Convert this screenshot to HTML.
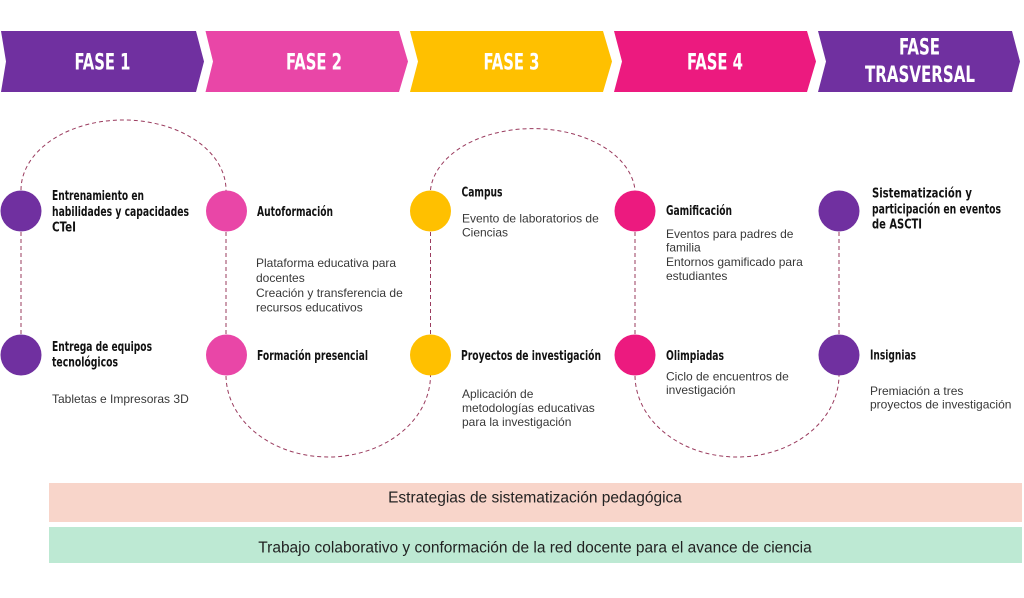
<!DOCTYPE html>
<html>
<head>
<meta charset="utf-8">
<style>
html,body{margin:0;padding:0;background:#fff;}
svg{display:block;}
.ch{font-family:"Liberation Sans Narrow","DejaVu Sans Condensed","Liberation Sans",sans-serif;font-weight:bold;font-size:22px;fill:#fff;}
.t{font-family:"Liberation Sans Narrow","DejaVu Sans Condensed","Liberation Sans",sans-serif;font-weight:bold;font-size:13px;fill:#111;}
.b{font-family:"Liberation Sans","DejaVu Sans",sans-serif;font-size:12px;fill:#383838;}
.bar{font-family:"Liberation Sans",Arial,sans-serif;font-size:15.5px;fill:#222;}
.d{fill:none;stroke:#9a3b5e;stroke-width:1;stroke-dasharray:4 3;}
</style>
</head>
<body>
<svg width="1024" height="598" viewBox="0 0 1024 598" xmlns="http://www.w3.org/2000/svg">
<rect width="1024" height="598" fill="#fff"/>

<!-- Chevrons -->
<polygon points="1,31 196,31 204,61.5 196,92 1,92 6,61.5" fill="#7030a0"/>
<polygon points="205.5,31 399,31 408,61.5 399,92 205.5,92 213,61.5" fill="#e946a7"/>
<polygon points="410,31 603,31 612,61.5 603,92 410,92 418,61.5" fill="#ffc000"/>
<polygon points="614,31 807,31 816,61.5 807,92 614,92 622,61.5" fill="#ec1a7f"/>
<polygon points="818,31 1012,31 1020,61.5 1012,92 818,92 826,61.5" fill="#7030a0"/>

<text class="ch" x="74.5" y="69.5" textLength="56" lengthAdjust="spacingAndGlyphs">FASE 1</text>
<text class="ch" x="286" y="69.5" textLength="56" lengthAdjust="spacingAndGlyphs">FASE 2</text>
<text class="ch" x="483.5" y="69.5" textLength="56" lengthAdjust="spacingAndGlyphs">FASE 3</text>
<text class="ch" x="687" y="69.5" textLength="56" lengthAdjust="spacingAndGlyphs">FASE 4</text>
<text class="ch" x="899" y="54.5" textLength="41" lengthAdjust="spacingAndGlyphs">FASE</text>
<text class="ch" x="865" y="82" textLength="110" lengthAdjust="spacingAndGlyphs">TRASVERSAL</text>

<!-- Dashed connectors -->
<path class="d" d="M21,211 L21,190 A102.5,70 0 0 1 226,190 L226,211"/>
<path class="d" d="M430.5,211 L430.5,190 A102.5,66 0 0 1 635,190 L635,211"/>
<line class="d" x1="21" y1="211" x2="21" y2="355"/>
<line class="d" x1="226" y1="211" x2="226" y2="355"/>
<line class="d" x1="430.5" y1="211" x2="430.5" y2="355"/>
<line class="d" x1="635" y1="211" x2="635" y2="355"/>
<line class="d" x1="839" y1="211" x2="839" y2="355"/>
<path class="d" d="M226,355 L226,375 A102.25,82 0 0 0 430.5,375 L430.5,355"/>
<path class="d" d="M635,355 L635,375 A102,82 0 0 0 839,375 L839,355"/>

<!-- Circles -->
<circle cx="21" cy="211" r="20.5" fill="#7030a0"/>
<circle cx="226.5" cy="211" r="20.5" fill="#e946a7"/>
<circle cx="430.5" cy="211" r="20.5" fill="#ffc000"/>
<circle cx="635" cy="211" r="20.5" fill="#ec1a7f"/>
<circle cx="839" cy="211" r="20.5" fill="#7030a0"/>
<circle cx="21" cy="355" r="20.5" fill="#7030a0"/>
<circle cx="226.5" cy="355" r="20.5" fill="#e946a7"/>
<circle cx="430.5" cy="355" r="20.5" fill="#ffc000"/>
<circle cx="635" cy="355" r="20.5" fill="#ec1a7f"/>
<circle cx="839" cy="355" r="20.5" fill="#7030a0"/>

<!-- Column 1 -->
<text class="t" x="52" y="200" textLength="92" lengthAdjust="spacingAndGlyphs">Entrenamiento en</text>
<text class="t" x="52" y="216" textLength="137" lengthAdjust="spacingAndGlyphs">habilidades y capacidades</text>
<text class="t" x="52" y="231.5" textLength="24" lengthAdjust="spacingAndGlyphs">CTeI</text>
<text class="t" x="52" y="351" textLength="100" lengthAdjust="spacingAndGlyphs">Entrega de equipos</text>
<text class="t" x="52" y="366.5" textLength="66" lengthAdjust="spacingAndGlyphs">tecnológicos</text>
<text class="b" x="52" y="403">Tabletas e Impresoras 3D</text>

<!-- Column 2 -->
<text class="t" x="257" y="216" textLength="76" lengthAdjust="spacingAndGlyphs">Autoformación</text>
<text class="b" x="256" y="267">Plataforma educativa para</text>
<text class="b" x="256" y="282">docentes</text>
<text class="b" x="256" y="297">Creación y transferencia de</text>
<text class="b" x="256" y="311.5">recursos educativos</text>
<text class="t" x="257" y="360" textLength="111" lengthAdjust="spacingAndGlyphs">Formación presencial</text>

<!-- Column 3 -->
<text class="t" x="461.5" y="196.5" textLength="41" lengthAdjust="spacingAndGlyphs">Campus</text>
<text class="b" x="462" y="222.5">Evento de laboratorios de</text>
<text class="b" x="462" y="236.5">Ciencias</text>
<text class="t" x="461" y="360" textLength="140" lengthAdjust="spacingAndGlyphs">Proyectos de investigación</text>
<text class="b" x="462" y="398">Aplicación de</text>
<text class="b" x="462" y="412">metodologías educativas</text>
<text class="b" x="462" y="426">para la investigación</text>

<!-- Column 4 -->
<text class="t" x="666" y="215" textLength="66" lengthAdjust="spacingAndGlyphs">Gamificación</text>
<text class="b" x="666" y="238">Eventos para padres de</text>
<text class="b" x="666" y="251.5">familia</text>
<text class="b" x="666" y="266">Entornos gamificado para</text>
<text class="b" x="666" y="280">estudiantes</text>
<text class="t" x="666" y="360" textLength="58" lengthAdjust="spacingAndGlyphs">Olimpiadas</text>
<text class="b" x="666" y="380.5">Ciclo de encuentros de</text>
<text class="b" x="666" y="394">investigación</text>

<!-- Column 5 -->
<text class="t" x="872" y="197.5" textLength="100" lengthAdjust="spacingAndGlyphs">Sistematización y</text>
<text class="t" x="872" y="213.5" textLength="129" lengthAdjust="spacingAndGlyphs">participación en eventos</text>
<text class="t" x="872" y="228.5" textLength="50" lengthAdjust="spacingAndGlyphs">de ASCTI</text>
<text class="t" x="870" y="359.5" textLength="46" lengthAdjust="spacingAndGlyphs">Insignias</text>
<text class="b" x="870" y="395">Premiación a tres</text>
<text class="b" x="870" y="408.5">proyectos de investigación</text>

<!-- Bottom bars -->
<rect x="49" y="483" width="973" height="39" fill="#f8d5ca"/>
<rect x="49" y="527" width="973" height="36" fill="#bde9d3"/>
<text class="bar" x="535" y="502.5" text-anchor="middle">Estrategias de sistematización pedagógica</text>
<text class="bar" x="535" y="552.5" text-anchor="middle">Trabajo colaborativo y conformación de la red docente para el avance de ciencia</text>
</svg>
</body>
</html>
